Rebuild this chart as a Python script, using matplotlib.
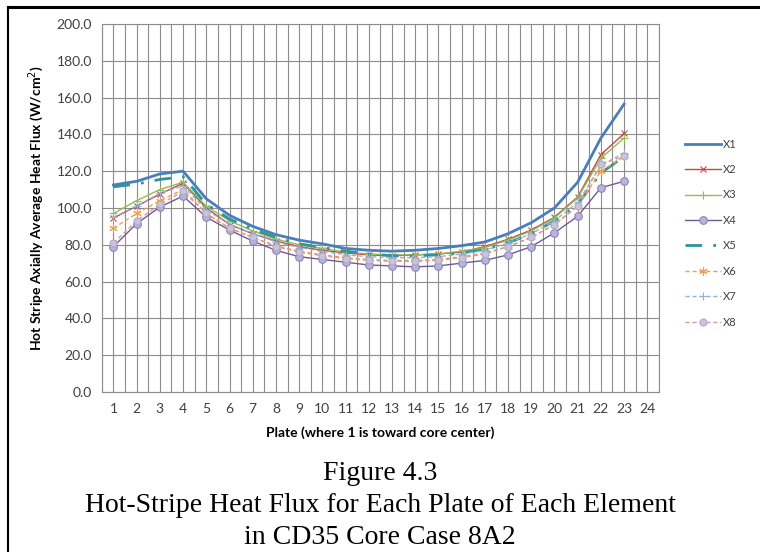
import numpy as np
import matplotlib
matplotlib.use("Agg")
import matplotlib.pyplot as plt
from matplotlib.lines import Line2D

plates = list(range(1, 24))
x_ticks = list(range(1, 25))

x1 = [112.5, 114.5, 118.5, 120.0, 105.0, 96.0, 90.0, 85.5, 82.5, 80.5, 78.0, 77.0,
      76.5, 77.0, 78.0, 79.5, 81.5, 86.0, 92.0, 100.0, 114.0, 138.0, 156.5]
x2 = [94.5, 101.0, 107.5, 113.5, 100.0, 91.0, 86.0, 82.0, 79.0, 77.0, 75.5, 74.5,
      74.0, 74.5, 75.0, 76.0, 79.0, 83.0, 88.0, 95.0, 106.0, 129.0, 140.5]
x3 = [97.0, 104.0, 110.0, 114.0, 101.0, 93.0, 87.5, 83.0, 80.0, 78.0, 76.0, 75.0,
      74.5, 74.5, 75.0, 76.5, 78.5, 82.5, 87.5, 94.5, 105.5, 127.0, 138.0]
x4 = [79.0, 91.5, 100.5, 106.5, 95.0, 88.0, 82.0, 77.0, 73.5, 72.0, 70.5, 69.0,
      68.5, 68.0, 68.5, 70.0, 71.5, 74.5, 79.0, 86.5, 95.5, 111.0, 114.5]
x5 = [111.5, 113.0, 115.5, 117.0, 102.0, 94.0, 88.5, 84.0, 80.5, 78.5, 76.5, 75.0,
      74.0, 74.0, 74.5, 75.5, 77.5, 81.0, 86.0, 93.0, 102.0, 119.0, 128.0]
x6 = [89.0, 97.0, 104.0, 110.0, 97.0, 89.0, 84.0, 79.5, 76.5, 74.5, 73.0, 72.0,
      71.5, 71.5, 72.0, 73.5, 75.5, 79.0, 84.0, 91.0, 101.0, 120.0, 128.0]
x7 = [95.0, 101.0, 108.0, 112.0, 99.0, 91.0, 86.0, 81.5, 78.5, 76.5, 74.5, 73.5,
      73.0, 73.0, 73.5, 75.0, 77.0, 81.0, 86.0, 93.0, 103.0, 123.0, 130.0]
x8 = [81.0, 93.0, 102.0, 109.0, 97.0, 89.0, 84.0, 79.0, 76.0, 74.0, 72.5, 71.5,
      71.0, 71.0, 71.5, 73.0, 75.0, 79.0, 84.0, 91.0, 101.0, 124.0, 128.0]

names = ["X1", "X2", "X3", "X4", "X5", "X6", "X7", "X8"]
y_ticks = np.arange(0, 201, 20)

fig = plt.figure(figsize=(7.6, 5.52), dpi=100)
ax = fig.add_axes([0.134, 0.29, 0.733, 0.6665])

styles = [
    dict(color="#4a7ebb", lw=2.0),
    dict(color="#be4b48", lw=1.0, marker="x", ms=5, mew=0.8),
    dict(color="#98b954", lw=1.0, marker="+", ms=6, mew=0.8),
    dict(color="#6f5a96", lw=1.0, marker="o", ms=5.5, mfc="#b9b3dc", mec="#8c86b8", mew=0.8),
    dict(color="#2f9696", lw=2.0, ls=(0, (6, 4, 1, 4))),
    dict(color="#f0a050", lw=1.0, ls=(0, (3, 2)), marker=(6, 2, 0), ms=6, mew=0.8),
    dict(color="#8fb3d9", lw=1.0, ls=(0, (3, 2)), marker="+", ms=6, mew=0.8),
    dict(color="#d99a98", lw=1.0, ls=(0, (3, 2)), marker="o", ms=5, mfc="#c8c4dc", mec="#b0aac8", mew=0.8),
]

series = [x1, x2, x3, x4, x5, x6, x7, x8]
for vals, name, st in zip(series, names, styles):
    ax.plot(plates, vals, label=name, zorder=3, **st)

ax.set_xlim(0.5, 24.5)
ax.set_ylim(0, 200)
ax.set_xticks(x_ticks)
ax.set_xticks(np.arange(0.5, 24.6, 1.0), minor=True)
ax.set_yticks(y_ticks)
ax.set_yticklabels(["%.1f" % v for v in y_ticks])
ax.grid(True, which="both", color="#8c8c8c", lw=0.8)
ax.tick_params(which="both", length=0, colors="#404040", labelsize=10)
ax.tick_params(axis="x", pad=8)
ax.tick_params(axis="y", pad=7)
for sp in ax.spines.values():
    sp.set_color("#8c8c8c")
    sp.set_linewidth(0.8)
for lab in ax.get_xticklabels() + ax.get_yticklabels():
    lab.set_family("Lato")

ax.set_xlabel("Plate (where 1 is toward core center)", fontsize=10,
              fontweight="bold", family="Lato")
ax.set_ylabel("Hot Stripe Axially Average Heat Flux (W/cm$^2$)", fontsize=10,
              fontweight="bold", family="Lato")
ax.xaxis.set_label_coords(0.5, -0.094)
ax.yaxis.set_label_coords(-0.1, 0.5)

leg = fig.legend(loc="upper left", bbox_to_anchor=(0.895, 0.757), frameon=False,
                 prop={"family": "Lato", "size": 8}, handlelength=3.3,
                 handletextpad=0.15, labelspacing=1.3, borderaxespad=0)
for t in leg.get_texts():
    t.set_color("#404040")

cap = ["Figure 4.3",
       "Hot-Stripe Heat Flux for Each Plate of Each Element",
       "in CD35 Core Case 8A2"]
for i, line in enumerate(cap):
    fig.text(0.5, 1 - (473 + 32.5 * i) / 552, line, ha="center", va="center",
             family="Liberation Serif", fontsize=20)

fig.add_artist(Line2D([8 / 760, 1], [1 - 7 / 552] * 2, color="black", lw=2.2))
fig.add_artist(Line2D([8 / 760] * 2, [0, 1 - 7 / 552], color="black", lw=1.5))

fig.savefig("out.png", dpi=100)
